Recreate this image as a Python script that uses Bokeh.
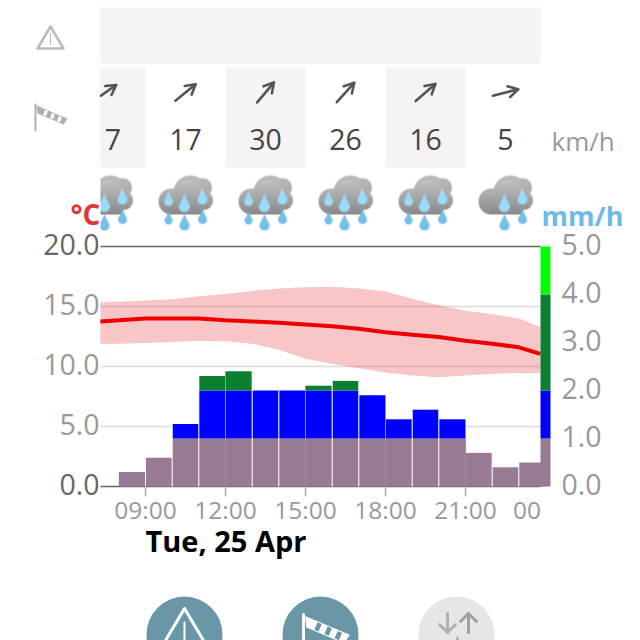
import numpy as np
from bokeh.embed import file_html
from bokeh.resources import INLINE
from bokeh.plotting import figure
from bokeh.models import LinearAxis, FixedTicker, Range1d
from bokeh.core.properties import value

# ---- data
rain_hours = [8, 9, 10, 11, 12, 13, 14, 15, 16, 17, 18, 19, 20, 21, 22, 23]
rain_mm = [0.3, 0.6, 1.3, 2.3, 2.4, 2.0, 2.0, 2.1, 2.2, 1.9, 1.4, 1.6, 1.4, 0.7, 0.4, 0.5]
temp_hours = [7.31, 8, 9, 10, 11, 12, 13, 14, 15, 16, 17, 18, 19, 20, 21, 22, 23, 23.81]
temp_mid = [13.75, 13.85, 14.0, 14.0, 14.0, 13.85, 13.75, 13.65, 13.5, 13.35, 13.15, 12.85, 12.65, 12.45, 12.15, 11.9, 11.6, 11.05]
temp_high = [15.35, 15.4, 15.5, 15.6, 15.85, 16.05, 16.3, 16.5, 16.6, 16.65, 16.5, 16.25, 15.65, 15.1, 14.65, 14.35, 14.0, 13.3]
temp_low = [11.9, 11.9, 11.95, 12.05, 12.15, 12.1, 11.9, 11.4, 10.65, 10.2, 9.85, 9.5, 9.25, 9.1, 9.25, 9.4, 9.45, 9.45]
wind_hours = [7.5, 10.5, 13.5, 16.5, 19.5, 22.5]
wind_text = ["7", "17", "30", "26", "16", "5"]
wind_angle = [35, 39, 50, 48, 41, 14]
shaded_cols = [7.5, 13.5, 19.5]
rain_band_low = [0, 1, 2, 4]
rain_band_high = [1, 2, 4, 5]
rain_band_color = ["#997a94", "#0000ff", "#0a8030", "#00ff00"]
time_ticks = [9, 12, 15, 18, 21]
time_labels = {9: "09:00", 12: "12:00", 15: "15:00", 18: "18:00", 21: "21:00"}
temp_grey_ticks = [5, 10, 15]
temp_dark_ticks = [0, 20]
rain_ticks = [0, 1, 2, 3, 4, 5]

PANEL = "#f5f3f4"
FONT = value("Open Sans")

# ---- scale between page pixels and the chart's units
PXH = 80 / 3
def hx(px): return 9 + (px - 145) / PXH
def ty(py): return (486 - py) / 12

SIZE = 640
LABEL_LIFT = 2
p = figure(width=SIZE, height=SIZE, toolbar_location=None, output_backend="svg",
           x_range=Range1d(hx(0), hx(SIZE)), y_range=Range1d(ty(SIZE), ty(0)),
           x_axis_type=None, y_axis_type=None, min_border=0,
           outline_line_color=None, background_fill_color=None, border_fill_color=None)
p.grid.visible = False
p.extra_y_ranges = {
    "rain": Range1d(ty(SIZE) / 4, ty(0) / 4),
    "temp_labels": Range1d(ty(SIZE + LABEL_LIFT), ty(LABEL_LIFT)),
    "rain_labels": Range1d(ty(SIZE + LABEL_LIFT) / 4, ty(LABEL_LIFT) / 4),
}

def txt(px, py, s, size, color, align="center", weight="normal"):
    # py is the wanted baseline; the page's text sits about 0.38 em below the anchor
    p.text([hx(px)], [ty(py - 0.38 * size)], text=[s], text_font=FONT, text_font_size=f"{size}px",
           text_color=color, text_align=align, text_baseline="alphabetic", text_font_style=weight)

def pline(pts, color, width):
    p.line([hx(a) for a, b in pts], [ty(b) for a, b in pts], line_color=color,
           line_width=width, line_cap="round", line_join="round")

def ppoly(pts, color):
    p.patch([hx(a) for a, b in pts], [ty(b) for a, b in pts], fill_color=color, line_color=None)

# ---- top panels
p.quad(left=[hx(100)], right=[hx(540)], top=[ty(7)], bottom=[ty(63)], fill_color=PANEL, line_color=None)
for h in shaded_cols:
    p.quad(left=[max(h - 1.5, hx(100))], right=[h + 1.5], top=[ty(67)], bottom=[ty(167)],
           fill_color=PANEL, line_color=None)

# ---- wind arrows and speeds
for h, s, a in zip(wind_hours, wind_text, wind_angle):
    cx = 145 + (h - 9) * PXH
    r = np.radians(a)
    dx, dy = np.cos(r), -np.sin(r)
    L = 13
    tip = (cx + dx * L, 92 + dy * L)
    tail = (cx - dx * L, 92 - dy * L)
    b1 = (tip[0] + 11 * np.cos(r + np.radians(150)), tip[1] - 11 * np.sin(r + np.radians(150)))
    b2 = (tip[0] + 11 * np.cos(r - np.radians(150)), tip[1] - 11 * np.sin(r - np.radians(150)))
    if cx < 110:
        tail = (100.5, tip[1] + (100.5 - tip[0]) * np.tan(-r))
    pline([tail, tip], "#555555", 2.6)
    pline([b1, tip, b2], "#555555", 2.6)
    txt(112.5 if cx < 110 else cx, 150, s, 28.5, "#444444")
txt(551, 150, "km/h", 26, "#999999", "left")

# ---- rain cloud icons
def icon(ndrops):
    ss = 3
    n = 64 * ss
    g = (np.arange(n) + 0.5) / ss
    X, Y = np.meshgrid(g - 32, g + 170)
    def disc(cx, cy, r): return (X - cx) ** 2 + (Y - cy) ** 2 <= r * r
    back = disc(17, 187, 9.5) | disc(5, 192, 17)
    front = disc(-14, 201, 13) | disc(2, 196, 16) | disc(18, 200, 9.5) | ((X > -14) & (X < 18) & (Y > 198) & (Y < 214))
    rgba = np.zeros((n, n, 4))
    grey_b = 0.74 - (Y - 175) * 0.004
    grey_f = 0.76 - (Y - 180) * 0.0065
    for c in range(3):
        rgba[..., c] = np.where(front, grey_f, grey_b)
    rgba[..., 3] = (back | front).astype(float)
    def drop(cx, cy, r, col):
        t = 2.3 * r
        m = disc(cx, cy, r) | ((Y >= cy - t) & (Y <= cy) & (np.abs(X - cx) <= r * (Y - (cy - t)) / t))
        for c in range(3):
            rgba[..., c][m] = col[c]
        rgba[..., 3][m] = 1
    light, dark = (0.6, 0.86, 0.98), (0.45, 0.75, 0.92)
    spots = [(-17, 201, 220, 4.5), (-1, 206, 225, 5.5), (17, 199, 219, 5)][3 - ndrops:]
    for cx, cu, cl, r in spots:
        drop(cx, cu, r, light)
        drop(cx, cl, r - 0.5, dark)
    out = np.zeros((64, 64, 4))
    for i in range(64):
        for j in range(64):
            out[i, j] = rgba[i * ss:(i + 1) * ss, j * ss:(j + 1) * ss].mean(axis=(0, 1))
    return (out * 255).astype(np.uint8)

def place_icon(arr, cx):
    left = int(round(cx)) - 32
    if left < 100:
        arr = arr[:, 100 - left:]
        left = 100
    h, w = arr.shape[:2]
    img = np.zeros((h, w), dtype=np.uint32)
    v = img.view(dtype=np.uint8).reshape((h, w, 4))
    v[:] = arr[::-1]
    p.image_rgba(image=[img], x=[hx(left)], y=[ty(170 + h)], dw=[w / PXH], dh=[h / 12])

for h in wind_hours:
    place_icon(icon(2 if h == wind_hours[-1] else 3), 145 + (h - 9) * PXH)

txt(70, 224, "°C", 28, "#d83a3a", "left", "bold")
txt(541, 225, "mm/h", 27, "#6fb9e6", "left", "bold")

# ---- grid and frame lines of the chart
xa, xb = hx(100), hx(540)
p.segment(x0=[xa] * 3, x1=[xb] * 3, y0=temp_grey_ticks, y1=temp_grey_ticks, line_color="#dcdcdc", line_width=1.5)
p.segment(x0=[xa] * 2, x1=[xb] * 2, y0=temp_dark_ticks, y1=temp_dark_ticks, line_color="#666666", line_width=1.5)

# ---- rain bars, stacked by intensity class
r = np.array(rain_mm)
left = np.array(rain_hours, dtype=float)
for lo, hi, col in zip(rain_band_low[:3], rain_band_high[:3], rain_band_color[:3]):
    mask = r > lo
    p.quad(left=left[mask], right=left[mask] + 1, bottom=[lo] * int(mask.sum()),
           top=np.minimum(r[mask], hi), fill_color=col, line_color=None, y_range_name="rain")
p.segment(x0=left[1:], x1=left[1:], y0=[0] * 15, y1=np.maximum(r[1:], r[:-1]), line_color="#ffffff",
          line_width=1, y_range_name="rain")
tick_tops = [max(rain_mm[rain_hours.index(t)], rain_mm[rain_hours.index(t) - 1]) for t in time_ticks]
p.segment(x0=time_ticks[1:], x1=time_ticks[1:], y0=[0] * 4, y1=tick_tops[1:], line_color="#8c8cdc",
          line_width=1, y_range_name="rain")

# ---- temperature band and line
p.varea(x=temp_hours, y1=temp_low, y2=temp_high, fill_color="#e62e2e", fill_alpha=0.27)
p.line(temp_hours, temp_mid, line_color="#ee0000", line_width=4)

# ---- colour scale at the right edge
p.quad(left=[hx(540)] * 4, right=[hx(550)] * 4, bottom=rain_band_low, top=rain_band_high,
       fill_color=rain_band_color, line_color=None, y_range_name="rain")

# ---- axes
def y_axis(side, ticks, color, loc, rng, standoff=1):
    ax = LinearAxis(fixed_location=loc, y_range_name=rng, ticker=FixedTicker(ticks=ticks),
                    major_tick_line_color=None, minor_tick_line_color=None, axis_line_color=None,
                    major_label_text_color=color, major_label_text_font="Open Sans",
                    major_label_text_font_size="28.5px", major_label_standoff=standoff,
                    major_tick_in=0, major_tick_out=0)
    ax.major_label_overrides = {t: f"{t:.1f}" for t in ticks}
    p.add_layout(ax, side)

y_axis("left", temp_grey_ticks, "#999999", hx(100), "temp_labels")
y_axis("left", temp_dark_ticks, "#666666", hx(100), "temp_labels")
y_axis("right", rain_ticks, "#999999", hx(550), "rain_labels", 11)

xax = LinearAxis(fixed_location=0, ticker=FixedTicker(ticks=time_ticks), axis_line_color=None,
                 minor_tick_line_color=None, major_tick_line_color="#aaaaaa", major_tick_line_width=1.5,
                 major_tick_in=0, major_tick_out=10, major_label_text_color="#999999",
                 major_label_text_font="Open Sans", major_label_text_font_size="24.5px",
                 major_label_standoff=-4, major_label_overrides=time_labels)
p.add_layout(xax, "below")
txt(526.5, 519, "00", 24.5, "#999999")
txt(145, 551, "Tue, 25 Apr", 29, "#000000", "left", "bold")

# ---- left icons
pline([(50, 26), (63, 48), (37, 48), (50, 26)], "#bbbbbb", 2.5)
pline([(50, 33), (50, 44)], "#bbbbbb", 1)

def sock(px0, py0, s, body, stripe, pole_len):
    def q(a, b): return (px0 + a * s, py0 + b * s)
    pline([q(0, 0), q(0, pole_len)], body, 2 * s)
    ppoly([q(1, 1), q(32, 14), q(28, 20), q(2, 9)], body)
    ax, ay, nx, ny = 0.92, 0.39, -0.39, 0.92
    for ca, cb in [(10, 8.5), (17, 11.5), (24, 14.5)]:
        ppoly([q(ca - 1.6 * ax - 2.8 * nx, cb - 1.6 * ay - 2.8 * ny),
               q(ca + 1.6 * ax - 2.8 * nx, cb + 1.6 * ay - 2.8 * ny),
               q(ca + 1.6 * ax + 2.8 * nx, cb + 1.6 * ay + 2.8 * ny),
               q(ca - 1.6 * ax + 2.8 * nx, cb - 1.6 * ay + 2.8 * ny)], stripe)

sock(35, 104, 1, "#b0b0b0", "#ffffff", 26)

# ---- bottom buttons
p.scatter([hx(184), hx(320)], [ty(634)] * 2, size=76, marker="circle", fill_color="#6a97a8", line_color=None)
p.scatter([hx(456)], [ty(634)], size=76, marker="circle", fill_color="#e6e6e6", line_color=None)
pline([(165, 640), (184, 608), (203, 640)], "#ffffff", 3)
pline([(184, 622), (184, 640)], "#ffffff", 2)
sock(303, 614, 1.45, "#ffffff", "#6a97a8", 20)
for cx, tip_y, tail_y, col in [(447, 632, 613, "#b0b0b0"), (468, 613, 632, "#a0a0a0")]:
    pline([(cx, tail_y), (cx, tip_y)], col, 3)
    d = 8 if tip_y < tail_y else -8
    pline([(cx - 8, tip_y + d), (cx, tip_y), (cx + 8, tip_y + d)], col, 3)
pline([(457, 637), (457, 640)], "#a0a0a0", 2)

open("out.html", "w").write(file_html(p, INLINE))
